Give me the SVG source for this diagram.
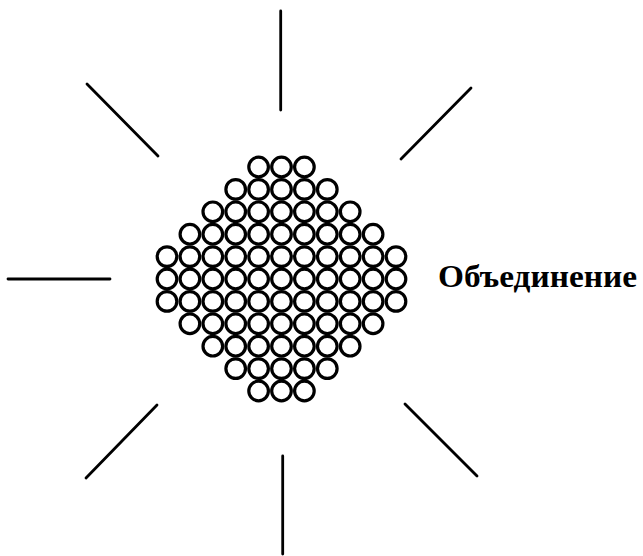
<svg xmlns="http://www.w3.org/2000/svg" xmlns:xlink="http://www.w3.org/1999/xlink" width="643" height="556" viewBox="0 0 643 556">
<style>
.c{fill:#fff;stroke:#000;stroke-width:3.2}
.r{stroke:#000;stroke-width:2.8;stroke-linecap:round;fill:none}
.t{font-family:"Liberation Serif","Times New Roman",serif;font-weight:bold;font-size:31px;fill:#000}
</style>
<defs><circle id="b" class="c" r="9.8"/></defs>
<rect width="643" height="556" fill="#fff"/>
<g id="rays">
<line class="r" x1="280.7" y1="11" x2="280.7" y2="110"/>
<line class="r" x1="87" y1="84" x2="158" y2="156"/>
<line class="r" x1="471" y1="88" x2="401" y2="159"/>
<line class="r" x1="8" y1="279" x2="110" y2="279"/>
<line class="r" x1="157" y1="405" x2="86" y2="478"/>
<line class="r" x1="405" y1="404" x2="477" y2="476"/>
<line class="r" x1="282.7" y1="456" x2="282.7" y2="554"/>
</g>
<g id="cluster">
<g transform="translate(0,167)"><use href="#b" x="258.6"/><use href="#b" x="281.5"/><use href="#b" x="304.4"/></g>
<g transform="translate(0,189.4)"><use href="#b" x="235.7"/><use href="#b" x="258.6"/><use href="#b" x="281.5"/><use href="#b" x="304.4"/><use href="#b" x="327.3"/></g>
<g transform="translate(0,211.8)"><use href="#b" x="212.8"/><use href="#b" x="235.7"/><use href="#b" x="258.6"/><use href="#b" x="281.5"/><use href="#b" x="304.4"/><use href="#b" x="327.3"/><use href="#b" x="350.2"/></g>
<g transform="translate(0,234.2)"><use href="#b" x="189.9"/><use href="#b" x="212.8"/><use href="#b" x="235.7"/><use href="#b" x="258.6"/><use href="#b" x="281.5"/><use href="#b" x="304.4"/><use href="#b" x="327.3"/><use href="#b" x="350.2"/><use href="#b" x="373.1"/></g>
<g transform="translate(0,256.6)"><use href="#b" x="167"/><use href="#b" x="189.9"/><use href="#b" x="212.8"/><use href="#b" x="235.7"/><use href="#b" x="258.6"/><use href="#b" x="281.5"/><use href="#b" x="304.4"/><use href="#b" x="327.3"/><use href="#b" x="350.2"/><use href="#b" x="373.1"/><use href="#b" x="396"/></g>
<g transform="translate(0,279)"><use href="#b" x="167"/><use href="#b" x="189.9"/><use href="#b" x="212.8"/><use href="#b" x="235.7"/><use href="#b" x="258.6"/><use href="#b" x="281.5"/><use href="#b" x="304.4"/><use href="#b" x="327.3"/><use href="#b" x="350.2"/><use href="#b" x="373.1"/><use href="#b" x="396"/></g>
<g transform="translate(0,301.4)"><use href="#b" x="167"/><use href="#b" x="189.9"/><use href="#b" x="212.8"/><use href="#b" x="235.7"/><use href="#b" x="258.6"/><use href="#b" x="281.5"/><use href="#b" x="304.4"/><use href="#b" x="327.3"/><use href="#b" x="350.2"/><use href="#b" x="373.1"/><use href="#b" x="396"/></g>
<g transform="translate(0,323.8)"><use href="#b" x="189.9"/><use href="#b" x="212.8"/><use href="#b" x="235.7"/><use href="#b" x="258.6"/><use href="#b" x="281.5"/><use href="#b" x="304.4"/><use href="#b" x="327.3"/><use href="#b" x="350.2"/><use href="#b" x="373.1"/></g>
<g transform="translate(0,346.2)"><use href="#b" x="212.8"/><use href="#b" x="235.7"/><use href="#b" x="258.6"/><use href="#b" x="281.5"/><use href="#b" x="304.4"/><use href="#b" x="327.3"/><use href="#b" x="350.2"/></g>
<g transform="translate(0,368.6)"><use href="#b" x="235.7"/><use href="#b" x="258.6"/><use href="#b" x="281.5"/><use href="#b" x="304.4"/><use href="#b" x="327.3"/></g>
<g transform="translate(0,391)"><use href="#b" x="258.6"/><use href="#b" x="281.5"/><use href="#b" x="304.4"/></g>
</g>
<g id="label"><text class="t" x="438" y="287" textLength="199" lengthAdjust="spacingAndGlyphs">Объединение</text></g>
</svg>
